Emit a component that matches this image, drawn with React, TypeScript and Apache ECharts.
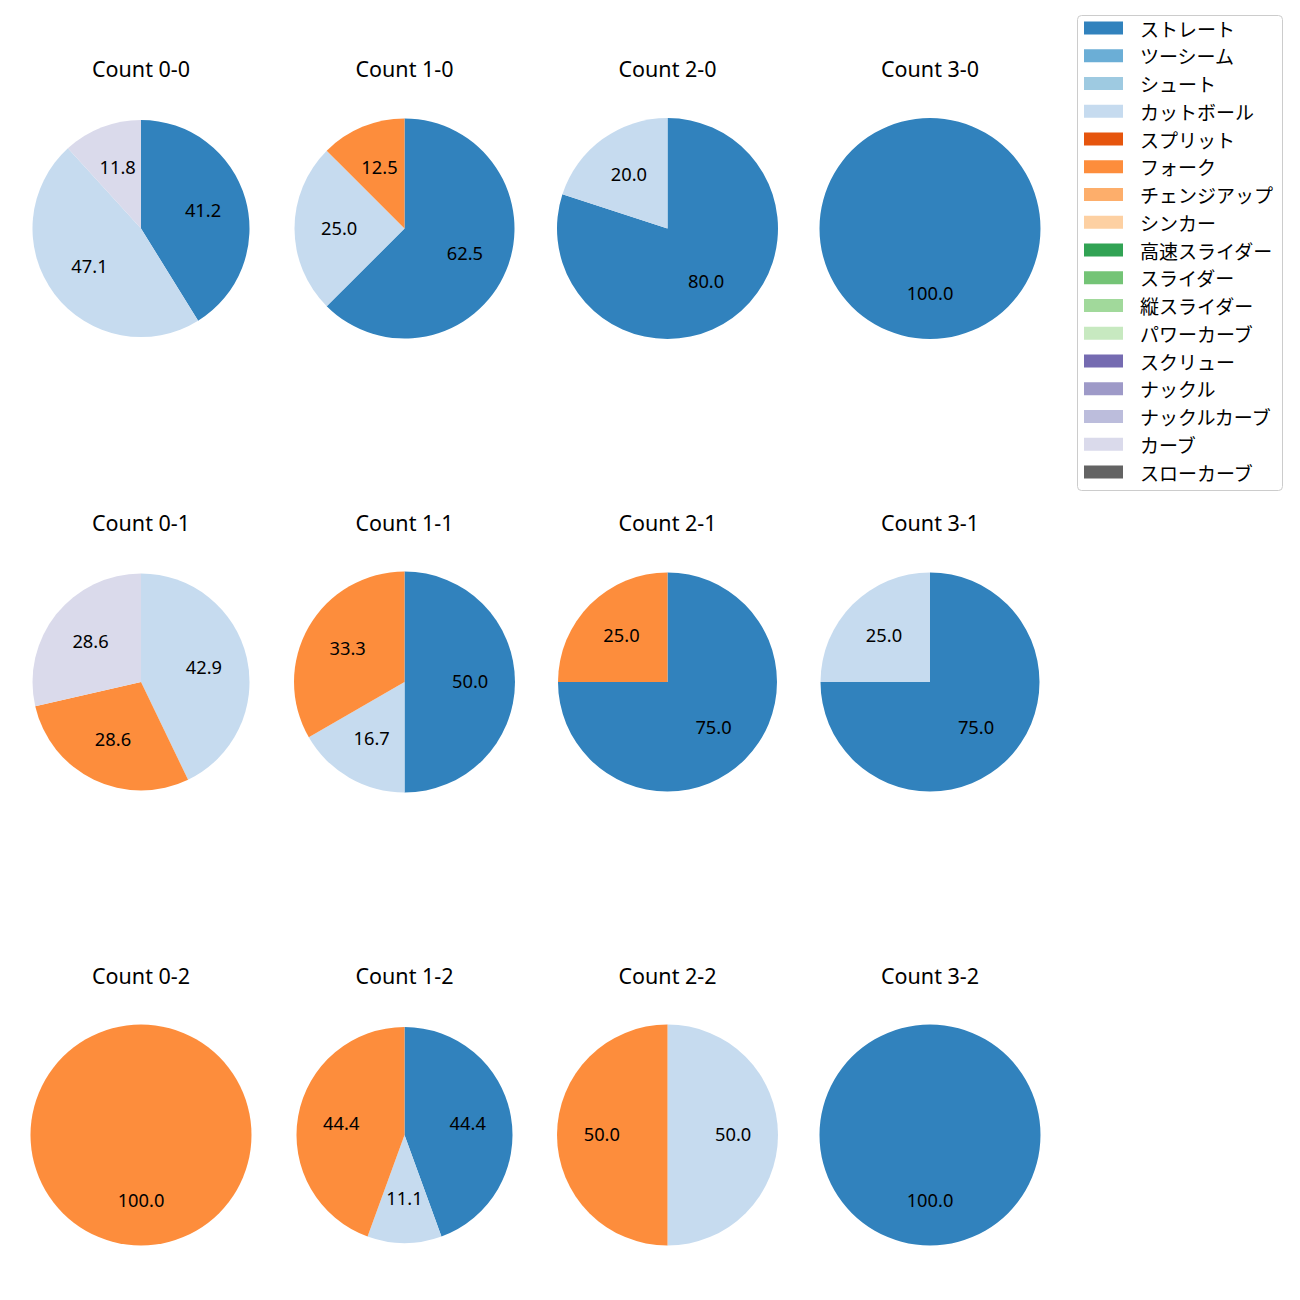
import React, { useEffect, useRef } from "react";
import * as echarts from "echarts";

// Pitch types (legend order) and their colours
const PITCH_TYPES = [
  "ストレート", "ツーシーム", "シュート", "カットボール", "スプリット", "フォーク",
  "チェンジアップ", "シンカー", "高速スライダー", "スライダー", "縦スライダー",
  "パワーカーブ", "スクリュー", "ナックル", "ナックルカーブ", "カーブ", "スローカーブ",
];
const PITCH_COLORS = [
  "#3182bd", "#6baed6", "#9ecae1", "#c6dbef", "#e6550d", "#fd8d3c",
  "#fdae6b", "#fdd0a2", "#31a354", "#74c476", "#a1d99b",
  "#c7e9c0", "#756bb1", "#9e9ac8", "#bcbddc", "#dadaeb", "#636363",
];

// Pitch counts per ball-strike count, in PITCH_TYPES order
const count00 = [7, 0, 0, 8, 0, 0, 0, 0, 0, 0, 0, 0, 0, 0, 0, 2, 0];
const count10 = [5, 0, 0, 2, 0, 1, 0, 0, 0, 0, 0, 0, 0, 0, 0, 0, 0];
const count20 = [4, 0, 0, 1, 0, 0, 0, 0, 0, 0, 0, 0, 0, 0, 0, 0, 0];
const count30 = [1, 0, 0, 0, 0, 0, 0, 0, 0, 0, 0, 0, 0, 0, 0, 0, 0];
const count01 = [0, 0, 0, 3, 0, 2, 0, 0, 0, 0, 0, 0, 0, 0, 0, 2, 0];
const count11 = [3, 0, 0, 1, 0, 2, 0, 0, 0, 0, 0, 0, 0, 0, 0, 0, 0];
const count21 = [3, 0, 0, 0, 0, 1, 0, 0, 0, 0, 0, 0, 0, 0, 0, 0, 0];
const count31 = [3, 0, 0, 1, 0, 0, 0, 0, 0, 0, 0, 0, 0, 0, 0, 0, 0];
const count02 = [0, 0, 0, 0, 0, 1, 0, 0, 0, 0, 0, 0, 0, 0, 0, 0, 0];
const count12 = [4, 0, 0, 1, 0, 4, 0, 0, 0, 0, 0, 0, 0, 0, 0, 0, 0];
const count22 = [0, 0, 0, 1, 0, 1, 0, 0, 0, 0, 0, 0, 0, 0, 0, 0, 0];
const count32 = [1, 0, 0, 0, 0, 0, 0, 0, 0, 0, 0, 0, 0, 0, 0, 0, 0];

const PANELS = [
  { title: "Count 0-0", values: count00 },
  { title: "Count 1-0", values: count10 },
  { title: "Count 2-0", values: count20 },
  { title: "Count 3-0", values: count30 },
  { title: "Count 0-1", values: count01 },
  { title: "Count 1-1", values: count11 },
  { title: "Count 2-1", values: count21 },
  { title: "Count 3-1", values: count31 },
  { title: "Count 0-2", values: count02 },
  { title: "Count 1-2", values: count12 },
  { title: "Count 2-2", values: count22 },
  { title: "Count 3-2", values: count32 },
];

// Layout
const COL_X = [141, 404.5, 667.5, 930];
const ROW_Y = [228.5, 682, 1135];
const RADII = [108.5, 110, 110.5, 110.5, 108.5, 110.5, 109.5, 109.5, 110.5, 108, 110.5, 110.5];
const CJK_FONT = "'Noto Sans CJK JP', 'Noto Sans', sans-serif";
const LATIN_FONT = "'Noto Sans', 'Noto Sans CJK JP', sans-serif";

export default function App() {
  const ref = useRef<HTMLDivElement>(null);

  useEffect(() => {
    if (!ref.current) return;
    const chart = echarts.init(ref.current, undefined, { renderer: "svg" });

    const series: any[] = [];
    const graphics: any[] = [];

    PANELS.forEach((p, i) => {
      const cx = COL_X[i % 4];
      const cy = ROW_Y[Math.floor(i / 4)];
      const r = RADII[i];
      const total = p.values.reduce((a, b) => a + b, 0);
      const data = p.values
        .map((v, k) => ({ name: PITCH_TYPES[k], value: v, itemStyle: { color: PITCH_COLORS[k] } }))
        .filter((d) => d.value > 0);

      series.push({
        type: "pie",
        center: [cx, cy],
        radius: [0, r],
        startAngle: 90,
        clockwise: true,
        silent: true,
        label: { show: false },
        labelLine: { show: false },
        itemStyle: { borderWidth: 0 },
        emphasis: { disabled: true },
        data,
      });
      series.push({
        type: "pie",
        center: [cx, cy],
        radius: [r * 0.134, r],
        startAngle: 90,
        clockwise: true,
        silent: true,
        z: 3,
        itemStyle: { color: "rgba(0,0,0,0)", borderWidth: 0 },
        labelLine: { show: false },
        emphasis: { disabled: true },
        label: {
          show: true,
          position: "inside",
          color: "#000",
          fontSize: 18.3,
          fontFamily: LATIN_FONT,
          offset: [0, -1.5],
          formatter: (prm: any) => ((prm.value / total) * 100).toFixed(1),
        },
        data: data.map((d) => ({ name: d.name, value: d.value, itemStyle: { color: "rgba(0,0,0,0)" } })),
      });

      graphics.push({
        type: "text",
        x: cx,
        y: cy - 160,
        style: {
          text: p.title,
          fill: "#000",
          fontSize: 21.5,
          fontFamily: LATIN_FONT,
          textAlign: "center",
          textVerticalAlign: "middle",
        },
      });
    });

    // hidden series carrying every pitch type so the legend lists all of them
    series.push({
      type: "pie",
      center: [-500, -500],
      radius: [0, 0],
      silent: true,
      label: { show: false },
      labelLine: { show: false },
      data: PITCH_TYPES.map((n, k) => ({ name: n, value: 1, itemStyle: { color: PITCH_COLORS[k] } })),
    });

    graphics.push({
      type: "rect",
      z: -1,
      shape: { x: 1077.5, y: 15.5, width: 205, height: 475, r: 4 },
      style: { fill: "#fff", stroke: "#cccccc", lineWidth: 1 },
    });

    chart.setOption({
      animation: false,
      backgroundColor: "#fff",
      graphic: graphics,
      legend: {
        orient: "vertical",
        left: 1084,
        top: 18,
        padding: 0,
        itemWidth: 39,
        itemHeight: 13,
        itemGap: 7.75,
        selectedMode: false,
        icon: "rect",
        data: PITCH_TYPES,
        textStyle: {
          fontSize: 19,
          fontFamily: CJK_FONT,
          color: "#000",
          lineHeight: 20,
          padding: [0, 0, 0, 12],
        },
      },
      series,
    });

    return () => chart.dispose();
  }, []);

  return <div ref={ref} style={{ position: "absolute", left: 0, top: 0, width: 1300, height: 1300 }} />;
}
